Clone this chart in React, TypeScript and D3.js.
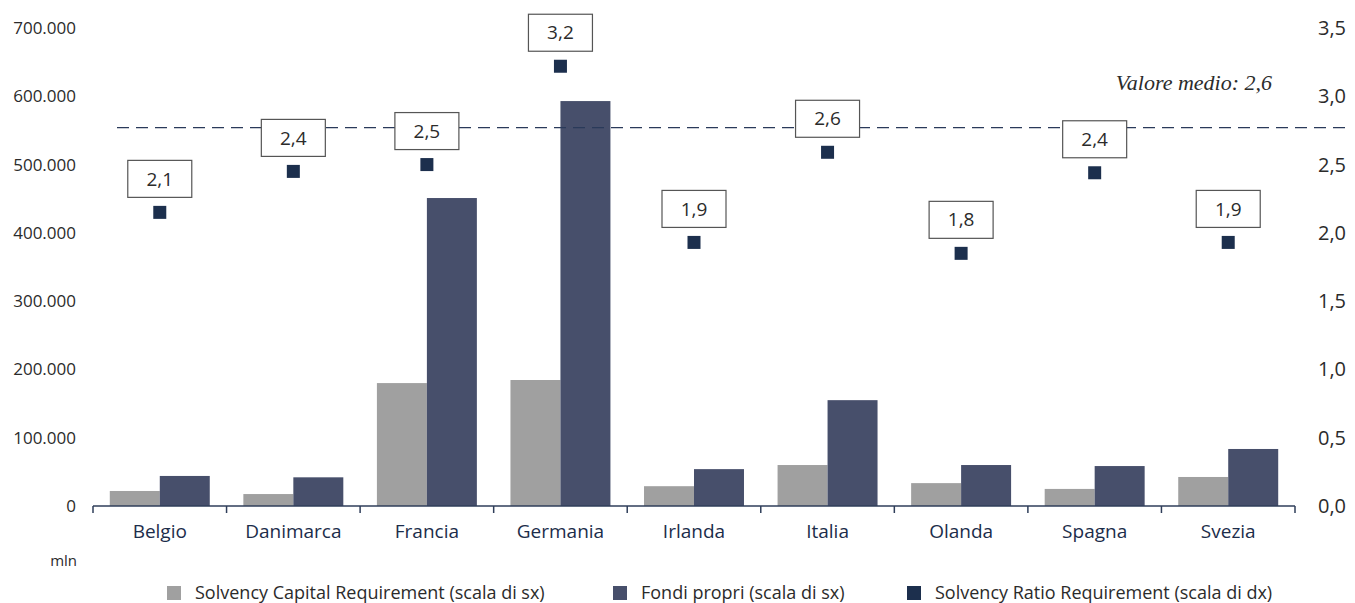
import React from "react";
import * as d3 from "d3";

const categories = ["Belgio", "Danimarca", "Francia", "Germania", "Irlanda", "Italia", "Olanda", "Spagna", "Svezia"];
const scrValues = [22000, 17500, 180000, 184500, 29000, 60000, 33500, 25000, 42500];
const ownFunds = [44000, 42000, 451000, 593000, 54000, 155000, 60000, 58500, 83500];
const ratioValues = [2.15, 2.45, 2.5, 3.22, 1.93, 2.59, 1.85, 2.44, 1.93];
const ratioLabels = ["2,1", "2,4", "2,5", "3,2", "1,9", "2,6", "1,8", "2,4", "1,9"];
const leftTicks = [0, 100000, 200000, 300000, 400000, 500000, 600000, 700000];
const rightTicks = [0, 0.5, 1, 1.5, 2, 2.5, 3, 3.5];
const meanLineValue = 2.77;
const meanLabel = "Valore medio: 2,6";
const legendItems = [
  { label: "Solvency Capital Requirement (scala di sx)", color: "#a0a0a0" },
  { label: "Fondi propri (scala di sx)", color: "#474f6b" },
  { label: "Solvency Ratio Requirement (scala di dx)", color: "#1c2f4d" },
];

const W = 1355;
const H = 603;
const FONT = "'Open Sans', sans-serif";

export default function App() {
  const x0 = 93, x1 = 1295, yBase = 506, yTop = 28;
  const x = d3.scaleBand<string>().domain(categories).range([x0, x1]).paddingInner(0).paddingOuter(0);
  const inner = d3.scaleBand<string>().domain(["scr", "own"]).range([0, x.bandwidth()]).paddingOuter(0.336).paddingInner(0);
  const yL = d3.scaleLinear().domain([0, 700000]).range([yBase, yTop]);
  const yR = d3.scaleLinear().domain([0, 3.5]).range([yBase, yTop]);
  const fmtL = (v: number) => d3.format(",")(v).replace(/,/g, ".");
  const fmtR = (v: number) => v.toFixed(1).replace(".", ",");
  const boundaries = [...categories.map((c) => x(c)!), x1];
  const sq = 13, boxW = 64, boxH = 37;

  const legendPos = [167, 613, 907];

  return (
    <div style={{ position: "absolute", left: 0, top: 0 }}>
      <svg width={W} height={H} style={{ display: "block", fontFamily: FONT }}>
        <rect x={0} y={0} width={W} height={H} fill="#fff" />
        {leftTicks.map((t) => (
          <text key={"l" + t} x={76} y={yL(t)} dy="0.35em" textAnchor="end" fontSize={17} fill="#2b2b2b">
            {fmtL(t)}
          </text>
        ))}
        {rightTicks.map((t) => (
          <text key={"r" + t} x={1318} y={yR(t)} dy="0.35em" textAnchor="start" fontSize={20} fill="#2b2b2b">
            {fmtR(t)}
          </text>
        ))}
        <text x={77} y={566} textAnchor="end" fontSize={15} fill="#2b2b2b">mln</text>
        {categories.map((c, i) => (
          <g key={c} transform={`translate(${x(c)},0)`}>
            <rect x={inner("scr")} y={yL(scrValues[i])} width={inner.bandwidth()} height={yBase - yL(scrValues[i])} fill="#a0a0a0" />
            <rect x={inner("own")} y={yL(ownFunds[i])} width={inner.bandwidth()} height={yBase - yL(ownFunds[i])} fill="#474f6b" />
          </g>
        ))}
        <line x1={x0} x2={x1} y1={yBase} y2={yBase} stroke="#2f3e5a" strokeWidth={1.5} />
        {boundaries.map((b, i) => (
          <line key={"t" + i} x1={b} x2={b} y1={yBase} y2={yBase + 7} stroke="#2f3e5a" strokeWidth={1.5} />
        ))}
        {categories.map((c) => (
          <text key={"c" + c} x={x(c)! + x.bandwidth() / 2} y={531} dy="0.35em" textAnchor="middle" fontSize={19} fill="#1c2d4a">
            {c}
          </text>
        ))}
        <line x1={117} x2={1350} y1={yR(meanLineValue)} y2={yR(meanLineValue)} stroke="#2a3a5a" strokeWidth={1.3} strokeDasharray="12 7" />
        <text x={1272} y={90} textAnchor="end" fontSize={22} fontStyle="italic" fontFamily="'Liberation Serif', serif" fill="#2b2b2b">
          {meanLabel}
        </text>
        {categories.map((c, i) => {
          const cx = x(c)! + x.bandwidth() / 2;
          const cy = yR(ratioValues[i]);
          return (
            <g key={"s" + c}>
              <rect x={cx - sq / 2} y={cy - sq / 2} width={sq} height={sq} fill="#1c2f4d" />
              <rect x={cx - boxW / 2} y={cy - 15 - boxH} width={boxW} height={boxH} fill="#fff" stroke="#555" strokeWidth={1.2} />
              <text x={cx} y={cy - 15 - boxH / 2} dy="0.35em" textAnchor="middle" fontSize={19} fill="#2b2b2b">
                {ratioLabels[i]}
              </text>
            </g>
          );
        })}
        {legendItems.map((it, i) => (
          <g key={"lg" + i}>
            <rect x={legendPos[i]} y={586} width={14} height={14} fill={it.color} />
            <text x={legendPos[i] + 28} y={593} dy="0.35em" fontSize={18} fill="#2b2b2b">
              {it.label}
            </text>
          </g>
        ))}
      </svg>
    </div>
  );
}
